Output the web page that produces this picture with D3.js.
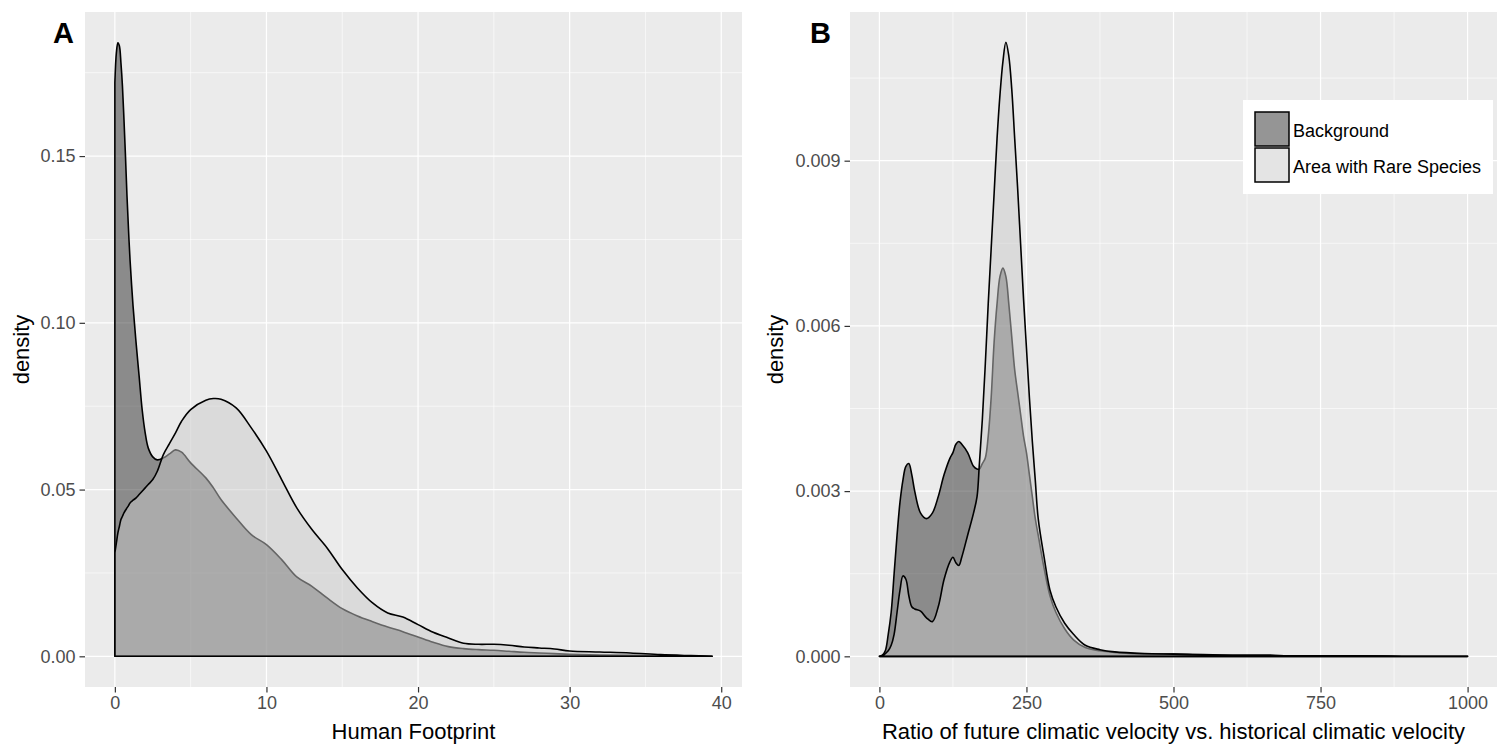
<!DOCTYPE html>
<html>
<head>
<meta charset="utf-8">
<script src="https://cdn.jsdelivr.net/npm/d3@7"></script>
<style>
	body { margin: 0; background: #ffffff; }
	svg { display: block; font-family: "Liberation Sans", Arial, sans-serif; }
</style>
</head>
<body>
<div id="chart"></div>
<script>

// panel A: human footprint densities
const footX = [0, 0.1, 0.2, 0.3, 0.4, 0.5, 0.6, 0.7, 0.8, 0.9, 1.0, 1.2, 1.4, 1.6, 1.8, 2.0, 2.2, 2.5, 2.8, 3.2, 3.6, 4.0, 4.4,
	5, 6, 6.5, 7, 8, 9, 10, 11, 12, 13, 14, 15, 16, 17, 18, 19, 20, 21, 22, 23, 24, 25, 26, 27, 28, 29, 30, 32, 34, 36, 38, 39.4];
const footBackground = [0.172, 0.181, 0.184, 0.183, 0.178, 0.171, 0.161, 0.150, 0.138, 0.128, 0.119, 0.105, 0.094, 0.084, 0.074,
	0.067, 0.0625, 0.0598, 0.0589, 0.0595, 0.0607, 0.0619, 0.0612,
	0.058, 0.0535, 0.0505, 0.047, 0.0415, 0.0365, 0.0335, 0.029, 0.0238, 0.021, 0.0175, 0.0143, 0.0121, 0.0104, 0.0088, 0.0074,
	0.0058, 0.0042, 0.0029, 0.0023, 0.002, 0.0018, 0.0015, 0.0012, 0.001, 0.0008, 0.0006, 0.0004, 0.0003, 0.0002, 0.0001, 0.00002];
const footRare = [0.031, 0.034, 0.037, 0.039, 0.041, 0.042, 0.043, 0.0438, 0.0445, 0.0452, 0.046, 0.0468, 0.0475, 0.0485, 0.0495,
	0.0505, 0.0515, 0.053, 0.0555, 0.0605, 0.0638, 0.067, 0.0705,
	0.074, 0.0768, 0.0773, 0.0771, 0.0745, 0.0685, 0.0615, 0.053, 0.0445, 0.038, 0.0325, 0.026, 0.0205, 0.016, 0.013, 0.0118, 0.0095,
	0.0072, 0.0055, 0.0039, 0.0036, 0.0036, 0.0033, 0.0028, 0.0025, 0.0022, 0.0016, 0.0013, 0.001, 0.0005, 0.0002, 0.00002];

// panel B: climatic velocity ratio densities
const ratioX = [0, 5, 10, 15, 20, 25, 30, 35, 40, 45, 50, 55, 60, 70, 80, 90, 100, 110, 120, 125, 130, 135, 140, 150, 160, 166,
	170, 175, 180, 185, 190, 195, 200, 205, 210, 215, 220, 225, 230, 235, 240, 245, 250, 255, 260, 265, 270, 280, 290, 300,
	315, 330, 350, 375, 400, 450, 500, 550, 600, 650, 700, 800, 900, 1000];
const ratioBackground = [0, 0.00002, 0.0001, 0.0004, 0.0008, 0.0015, 0.0022, 0.0028, 0.0032, 0.00345, 0.0035, 0.0033, 0.003,
	0.0026, 0.0025, 0.0026, 0.0029, 0.0033, 0.0036, 0.0037, 0.00385, 0.0039, 0.00385, 0.0037, 0.00345, 0.0034,
	0.0034, 0.0035, 0.0036, 0.004, 0.0047, 0.0057, 0.0064, 0.0069, 0.00705, 0.0069, 0.0064, 0.0058, 0.0052, 0.0048, 0.0044,
	0.004, 0.0037, 0.0033, 0.0029, 0.0025, 0.0022, 0.0016, 0.0011, 0.0008,
	0.0005, 0.0003, 0.00016, 0.0001, 0.00007, 0.00004, 0.00004, 0.00002, 0.00002, 0.00002, 0.00001, 0.00001, 0, 0];
const ratioRare = [0, 0.00001, 0.00005, 0.0001, 0.0002, 0.0004, 0.0008, 0.0012, 0.00146, 0.0014, 0.0011, 0.0009, 0.00086,
	0.00082, 0.0007, 0.00063, 0.0009, 0.0014, 0.00172, 0.0018, 0.0017, 0.00165, 0.0018, 0.0022, 0.0026, 0.0029,
	0.0035, 0.0043, 0.0053, 0.0064, 0.0074, 0.0084, 0.0094, 0.0102, 0.0108, 0.01115, 0.0109, 0.0103, 0.0094, 0.0085, 0.0075,
	0.0065, 0.0056, 0.0047, 0.0039, 0.0032, 0.0025, 0.0018, 0.0012, 0.0009,
	0.0006, 0.0004, 0.0002, 0.00012, 0.00008, 0.00005, 0.00004, 0.00003, 0.00002, 0.00002, 0.00001, 0.00001, 0, 0];

const footXTicks = [0, 10, 20, 30, 40];
const footYTicks = [0, 0.05, 0.10, 0.15];
const ratioXTicks = [0, 250, 500, 750, 1000];
const ratioYTicks = [0, 0.003, 0.006, 0.009];

const seriesNames = ['Background', 'Area with Rare Species'];

const width = 1509;
const height = 747;

const panelBg = '#ebebeb';
const bgFill = '#2b2b2b';
const rareFill = '#c9c9c9';
const textGray = '#4d4d4d';

let svg = d3.select('#chart').append('svg')
	.attr('width', width)
	.attr('height', height);

function drawPanel(p)
{
	let x = d3.scaleLinear()
		.domain(p.xDomain)
		.range([p.left, p.right]);

	let y = d3.scaleLinear()
		.domain(p.yDomain)
		.range([p.bottom, p.top]);

	let g = svg.append('g');

	g.append('rect')
		.attr('x', p.left)
		.attr('y', p.top)
		.attr('width', p.right - p.left)
		.attr('height', p.bottom - p.top)
		.attr('fill', panelBg);

	// minor grid
	for(let i = 0; i < p.xTicks.length - 1; i++)
	{
		let m = (p.xTicks[i] + p.xTicks[i+1]) / 2;
		g.append('line')
			.attr('x1', x(m)).attr('x2', x(m))
			.attr('y1', p.top).attr('y2', p.bottom)
			.attr('stroke', '#ffffff')
			.attr('stroke-width', 0.6);
	}
	let yStep = p.yTicks[1] - p.yTicks[0];
	for(let i = 0; i < p.yTicks.length; i++)
	{
		let m = p.yTicks[i] + yStep / 2;
		if(y(m) < p.top) continue;
		g.append('line')
			.attr('x1', p.left).attr('x2', p.right)
			.attr('y1', y(m)).attr('y2', y(m))
			.attr('stroke', '#ffffff')
			.attr('stroke-width', 0.6);
	}

	// major grid
	g.selectAll('.vmajor')
		.data(p.xTicks)
		.enter()
		.append('line')
		.attr('x1', d => x(d)).attr('x2', d => x(d))
		.attr('y1', p.top).attr('y2', p.bottom)
		.attr('stroke', '#ffffff')
		.attr('stroke-width', 1.2);

	g.selectAll('.hmajor')
		.data(p.yTicks)
		.enter()
		.append('line')
		.attr('x1', p.left).attr('x2', p.right)
		.attr('y1', d => y(d)).attr('y2', d => y(d))
		.attr('stroke', '#ffffff')
		.attr('stroke-width', 1.2);

	let area = d3.area()
		.x((d, i) => x(p.xs[i]))
		.y0(y(0))
		.y1(d => Math.min(y(0), y(d)))
		.curve(d3.curveCatmullRom.alpha(0.5));

	g.append('path')
		.attr('d', area(p.bg))
		.attr('fill', bgFill)
		.attr('fill-opacity', 0.5)
		.attr('stroke', '#000000')
		.attr('stroke-width', 1.6)
		.attr('stroke-linejoin', 'round');

	g.append('path')
		.attr('d', area(p.rare))
		.attr('fill', rareFill)
		.attr('fill-opacity', 0.5)
		.attr('stroke', '#000000')
		.attr('stroke-width', 1.6)
		.attr('stroke-linejoin', 'round');

	// axes
	let xAxis = d3.axisBottom(x)
		.tickValues(p.xTicks)
		.tickSize(5.5)
		.tickPadding(4)
		.tickFormat(d3.format('d'));

	let yAxis = d3.axisLeft(y)
		.tickValues(p.yTicks)
		.tickSize(5.5)
		.tickPadding(4)
		.tickFormat(d3.format(p.yFormat));

	let gx = g.append('g')
		.attr('transform', `translate(0, ${p.bottom})`)
		.call(xAxis);

	let gy = g.append('g')
		.attr('transform', `translate(${p.left}, 0)`)
		.call(yAxis);

	[gx, gy].forEach(a => {
		a.select('.domain').remove();
		a.selectAll('line').attr('stroke', '#333333').attr('stroke-width', 1.2);
		a.selectAll('text')
			.attr('fill', textGray)
			.style('font-size', '18px')
			.style('font-family', '"Liberation Sans", Arial, sans-serif');
	});

	g.append('text')
		.attr('x', (p.left + p.right) / 2)
		.attr('y', 739)
		.attr('text-anchor', 'middle')
		.style('font-size', '22px')
		.attr('fill', '#000000')
		.text(p.xTitle);

	g.append('text')
		.attr('transform', `translate(${p.yTitleX}, ${(p.top + p.bottom) / 2}) rotate(-90)`)
		.attr('text-anchor', 'middle')
		.style('font-size', '22px')
		.attr('fill', '#000000')
		.text('density');

	g.append('text')
		.attr('x', p.labelX)
		.attr('y', 43)
		.style('font-size', '29px')
		.style('font-weight', 'bold')
		.attr('fill', '#000000')
		.text(p.label);
}

drawPanel({
	left: 85, right: 742, top: 12, bottom: 687,
	xDomain: [-1.97, 41.37],
	yDomain: [-0.0092, 0.1932],
	xs: footX, bg: footBackground, rare: footRare,
	xTicks: footXTicks, yTicks: footYTicks, yFormat: '.2f',
	xTitle: 'Human Footprint',
	yTitleX: 29,
	label: 'A', labelX: 53
});

drawPanel({
	left: 850, right: 1497, top: 12, bottom: 687,
	xDomain: [-50, 1050],
	yDomain: [-0.000557, 0.0117],
	xs: ratioX, bg: ratioBackground, rare: ratioRare,
	xTicks: ratioXTicks, yTicks: ratioYTicks, yFormat: '.3f',
	xTitle: 'Ratio of future climatic velocity vs. historical climatic velocity',
	yTitleX: 783,
	label: 'B', labelX: 810
});

// legend
let legend = svg.append('g');

legend.append('rect')
	.attr('x', 1243)
	.attr('y', 100)
	.attr('width', 250)
	.attr('height', 94)
	.attr('fill', '#ffffff');

let keyFills = [bgFill, rareFill];

let keys = legend.selectAll('.key')
	.data(seriesNames)
	.enter()
	.append('g')
	.attr('transform', (d, i) => `translate(1255, ${112 + i * 36})`);

keys.append('rect')
	.attr('x', 0)
	.attr('y', 0)
	.attr('width', 34)
	.attr('height', 34)
	.attr('fill', (d, i) => keyFills[i])
	.attr('fill-opacity', 0.5)
	.attr('stroke', '#000000')
	.attr('stroke-width', 1.5);

keys.append('text')
	.attr('x', 38)
	.attr('y', 25)
	.style('font-size', '18px')
	.attr('fill', '#000000')
	.text(d => d);

</script>
</body>
</html>
